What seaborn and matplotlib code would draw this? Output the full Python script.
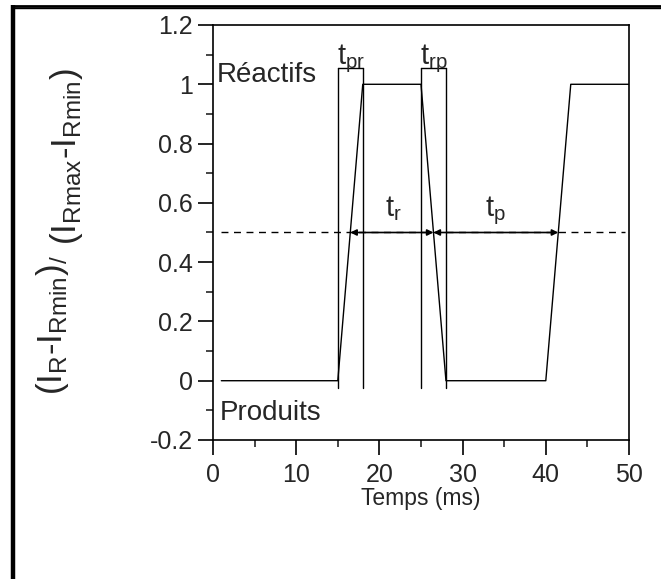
import matplotlib
matplotlib.use("Agg")
import matplotlib.pyplot as plt
from matplotlib.lines import Line2D
from matplotlib.ticker import MultipleLocator
import seaborn as sns
import pandas as pd

# signal trace (time in ms, normalised intensity)
temps = [1, 15, 18, 25, 28, 40, 43, 50]
signal = [0, 0, 1, 1, 0, 0, 1, 1]

# vertical markers for the switching times
marker_x = [15, 18, 25, 28]
marker_bottom = -0.025
marker_top = 1.055

# brackets on top of the switching intervals
brackets = [(15, 18, "pr"), (25, 28, "rp")]

# arrows at half height, label start positions
half = 0.5
arrows = [(16.5, 26.5, "r", 20.7), (26.5, 41.5, "p", 32.7)]

yticks = [-0.2, 0, 0.2, 0.4, 0.6, 0.8, 1, 1.2]
ytick_labels = ["-0.2", "0", "0.2", "0.4", "0.6", "0.8", "1", "1.2"]

sns.set_style("ticks")
plt.rcParams["font.family"] = ["Liberation Sans", "DejaVu Sans"]
plt.rcParams["mathtext.fontset"] = "custom"
plt.rcParams["mathtext.rm"] = "Liberation Sans"
plt.rcParams["mathtext.it"] = "Liberation Sans"

W, H = 661, 579
fig = plt.figure(figsize=(W / 100, H / 100), dpi=100)
ax = fig.add_axes([213 / W, 1 - 440 / H, 416 / W, 415 / H])

df = pd.DataFrame({"temps": temps, "signal": signal})
sns.lineplot(data=df, x="temps", y="signal", ax=ax, color="black", lw=1.0)

for xv in marker_x:
    ax.plot([xv, xv], [marker_bottom, marker_top], color="black", lw=1.0)

for x0, x1, sub in brackets:
    ax.plot([x0, x1], [marker_top, marker_top], color="black", lw=1.0)
    ax.text(x0 - 0.1, 1.068, r"$\mathrm{t_{%s}}$" % sub,
            ha="left", va="baseline", fontsize=21)

ax.plot([1, 49.5], [half, half], color="black", lw=1.0, ls=(0, (5, 4)))

for x0, x1, sub, xt in arrows:
    ax.annotate("", xy=(x1, half), xytext=(x0, half),
                arrowprops=dict(arrowstyle="<|-|>", color="black", lw=1.2,
                                mutation_scale=9, shrinkA=0, shrinkB=0))
    ax.text(xt, 0.554, r"$\mathrm{t_{%s}}$" % sub,
            ha="left", va="baseline", fontsize=21)

ax.text(0.5, 1.007, "Réactifs", ha="left", va="baseline", fontsize=20)
ax.text(0.85, -0.132, "Produits", ha="left", va="baseline", fontsize=20)

ax.set_xlim(0, 50)
ax.set_ylim(-0.2, 1.2)
ax.xaxis.set_major_locator(MultipleLocator(10))
ax.xaxis.set_minor_locator(MultipleLocator(5))
ax.yaxis.set_minor_locator(MultipleLocator(0.1))
ax.set_yticks(yticks)
ax.set_yticklabels(ytick_labels)
ax.tick_params(which="major", direction="out", length=10.5, width=1.2,
               labelsize=18, color="black", top=False, right=False)
ax.tick_params(axis="x", which="major", pad=6)
ax.tick_params(axis="y", which="major", pad=4)
ax.tick_params(which="minor", direction="out", length=5, width=1.2,
               top=False, right=False)
for s in ax.spines.values():
    s.set_visible(True)
    s.set_linewidth(1.2)
    s.set_color("black")

ax.set_xlabel("Temps (ms)", fontsize=16.5, labelpad=0)
ax.set_ylabel("")

# y label: numerator, small slash, then slightly lowered denominator
fig.text(62 / W, 1 - 395 / H, r"$\mathrm{(I_R}$-$\mathrm{I_{Rmin})_{/}}$",
         rotation=90, rotation_mode="anchor", ha="left", va="baseline",
         fontsize=25)
fig.text(76 / W, 1 - 245 / H, r"$\mathrm{(I_{Rmax}}$-$\mathrm{I_{Rmin})}$",
         rotation=90, rotation_mode="anchor", ha="left", va="baseline",
         fontsize=25)

# frame lines around the figure (left and top)
fig.add_artist(Line2D([0.0196, 0.0196], [0.0, 0.991], transform=fig.transFigure,
                      color="black", lw=3.2, solid_capstyle="butt"))
fig.add_artist(Line2D([0.017, 1.0], [0.990, 0.990], transform=fig.transFigure,
                      color="black", lw=2.0, solid_capstyle="butt"))
fig.add_artist(Line2D([0.017, 1.0], [0.9855, 0.9855], transform=fig.transFigure,
                      color="black", lw=1.0, solid_capstyle="butt"))

fig.savefig("out.png", dpi=100)
